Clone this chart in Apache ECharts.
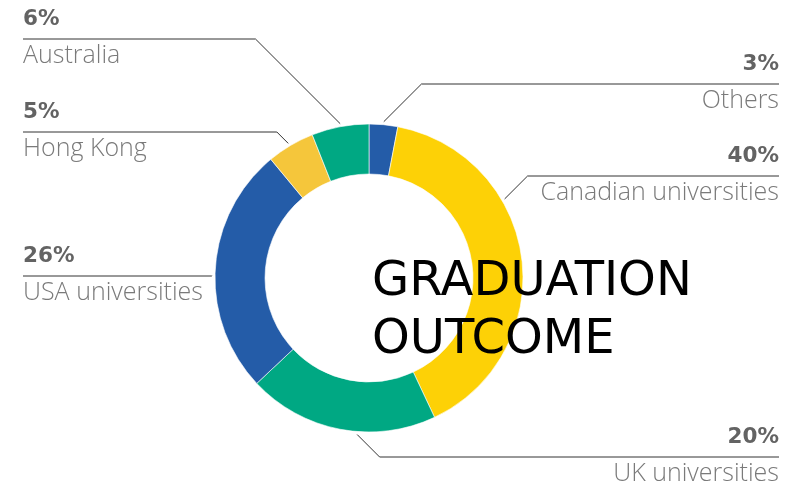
<!DOCTYPE html>
<html>
<head>
<meta charset="utf-8">
<script src="https://cdn.jsdelivr.net/npm/echarts@6/dist/echarts.min.js"></script>
<style>
html,body{margin:0;padding:0;background:#fff;}
#chart{width:800px;height:485px;}
</style>
</head>
<body>
<div id="chart"></div>
<script>
// ---- data ----
const categories = ['Others', 'Canadian universities', 'UK universities', 'USA universities', 'Hong Kong', 'Australia'];
const values = [3, 40, 20, 26, 5, 6];
const sliceColors = ['#245ca8', '#fdd106', '#00a883', '#245ca8', '#f5c63b', '#00a883'];
const titleLines = ['GRADUATION', 'OUTCOME'];

// ---- label layout (style) ----
const labelSide = ['right', 'right', 'right', 'left', 'left', 'left'];
const labelLineY = [84, 176, 457, 276, 132, 39];
const anchorFrac = [0.5, 0.34, 0.41, 0.47, 0.48, 0.51];

const CX = 369, CY = 278, R0 = 104, R = 154, GAP = 3;
const LEFT_X = 23, RIGHT_X = 779;
const PCT_LH = 39;

const total = values.reduce((a, b) => a + b, 0);
const cumStart = values.map((v, i) => values.slice(0, i).reduce((a, b) => a + b, 0));

const chart = echarts.init(document.getElementById('chart'), null, {renderer: 'canvas'});

const option = {
  backgroundColor: '#ffffff',
  animation: false,
  graphic: [{
    type: 'text',
    left: 372,
    top: 254,
    z: 100,
    zlevel: 1,
    style: {
      text: titleLines.join('\n'),
      font: '48px "DejaVu Sans"',
      fill: '#000000',
      lineHeight: 58
    }
  }],
  series: [{
    type: 'pie',
    center: [CX, CY],
    radius: [R0, R],
    startAngle: 90,
    clockwise: true,
    avoidLabelOverlap: false,
    silent: true,
    itemStyle: {borderColor: '#ffffff', borderWidth: 0.6},
    data: categories.map((c, i) => ({
      name: c,
      value: values[i],
      itemStyle: {color: sliceColors[i]}
    })),
    label: {
      show: true,
      position: 'outside',
      formatter: function (p) {
        return '{p|' + values[p.dataIndex] + '%}\n{n|' + categories[p.dataIndex] + '}';
      },
      rich: {
        p: {fontFamily: 'DejaVu Sans', fontWeight: 'bold', fontSize: 21.5, color: '#636363', lineHeight: PCT_LH},
        n: {fontFamily: 'Open Sans', fontWeight: 300, fontSize: 25, color: '#7a7a7a', lineHeight: 34}
      }
    },
    labelLine: {
      show: true,
      length: 10,
      length2: 10,
      lineStyle: {color: '#333333', width: 1}
    },
    labelLayout: function (params) {
      const i = params.dataIndex;
      const ang = (cumStart[i] + anchorFrac[i] * values[i]) / total * 2 * Math.PI;
      const ax = CX + (R + GAP) * Math.sin(ang);
      const ay = CY - (R + GAP) * Math.cos(ang);
      const ly = labelLineY[i];
      const left = labelSide[i] === 'left';
      const ex = ax + (left ? -1 : 1) * Math.abs(ly - ay);
      const fx = left ? LEFT_X : RIGHT_X;
      return {
        x: fx,
        y: ly - PCT_LH,
        align: left ? 'left' : 'right',
        verticalAlign: 'top',
        labelLinePoints: [[ax, ay], [ex, ly], [fx, ly]]
      };
    }
  }]
};
chart.setOption(option);
</script>
</body>
</html>
